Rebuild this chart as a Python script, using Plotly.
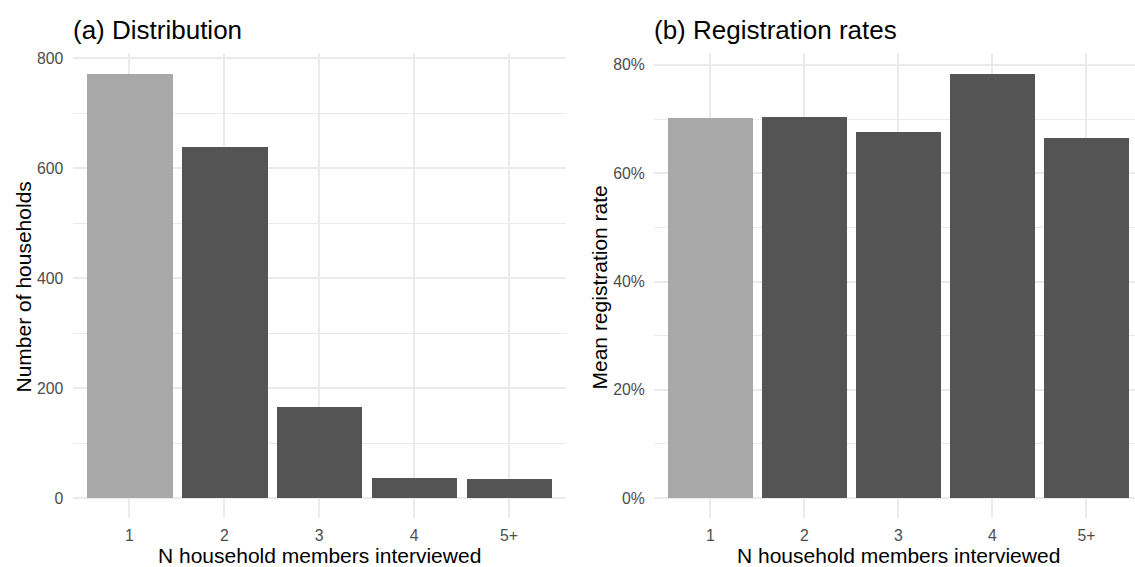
import plotly.graph_objects as go

categories = ["1", "2", "3", "4", "5+"]
households = [772, 640, 166, 37.5, 35.7]
reg_rates = [0.703, 0.705, 0.676, 0.784, 0.666]
bar_colors = ["#A8A8A8", "#545454", "#545454", "#545454", "#545454"]

W, H = 1135, 567
def px_x(v): return v / W
def px_y(v): return 1 - v / H

fig = go.Figure()
fig.add_trace(go.Bar(x=categories, y=households, marker_color=bar_colors, width=0.9,
                     marker_line_width=0, xaxis="x", yaxis="y", showlegend=False))
fig.add_trace(go.Bar(x=categories, y=reg_rates, marker_color=bar_colors, width=0.9,
                     marker_line_width=0, xaxis="x2", yaxis="y2", showlegend=False))

FONT = "Liberation Sans, Arial, sans-serif"
grid = "#EBEBEB"
tickfont = dict(family=FONT, size=15.8, color="#4D4D4D")
titlefont = dict(family=FONT, size=21, color="#000000")

ydom = [px_y(518), px_y(50)]
xcommon = dict(type="category", showgrid=True, gridcolor=grid, gridwidth=1.6,
               zeroline=False, showline=False, tickfont=tickfont, ticks="outside",
               ticklen=3, tickcolor="rgba(0,0,0,0)", fixedrange=True)
ycommon = dict(showgrid=True, gridcolor=grid, gridwidth=1.6, zeroline=False, showline=False,
               tickfont=tickfont, ticks="outside", ticklen=5, tickcolor="rgba(0,0,0,0)",
               fixedrange=True)
fig.update_layout(
    width=W, height=H,
    margin=dict(l=0, r=0, t=0, b=0),
    paper_bgcolor="white", plot_bgcolor="white",
    bargap=0,
    xaxis=dict(domain=[px_x(72.5), px_x(566)], anchor="y", range=[-0.6, 4.6], **xcommon),
    xaxis2=dict(domain=[px_x(654), 1.0], anchor="y2", range=[-0.6, 4.516], **xcommon),
    yaxis=dict(domain=ydom, anchor="x", range=[-36.7, 810.3], dtick=200, tick0=0,
               minor=dict(dtick=100, tick0=0, showgrid=True, gridcolor=grid, gridwidth=0.8),
               **ycommon),
    yaxis2=dict(domain=ydom, anchor="x2", range=[-0.0373, 0.8226], dtick=0.2, tick0=0,
                tickformat=".0%",
                minor=dict(dtick=0.1, tick0=0, showgrid=True, gridcolor=grid, gridwidth=0.8),
                **ycommon),
)

ann = []
for x0, t in [(72.5, "(a) Distribution"), (654, "(b) Registration rates")]:
    ann.append(dict(text=t, x=px_x(x0 - 2), y=px_y(27), xref="paper", yref="paper",
                    xanchor="left", yanchor="middle", showarrow=False,
                    font=dict(family=FONT, size=26, color="#000")))
for cx in [(72.5 + 566) / 2, (654 + 1143) / 2]:
    ann.append(dict(text="N household members interviewed", x=px_x(cx), y=px_y(555),
                    xref="paper", yref="paper", xanchor="center", yanchor="middle",
                    showarrow=False, font=titlefont))
for cx, t in [(23, "Number of households"), (599, "Mean registration rate")]:
    ann.append(dict(text=t, x=px_x(cx), y=px_y(286), xref="paper", yref="paper",
                    xanchor="center", yanchor="middle", showarrow=False, textangle=-90,
                    font=titlefont))
fig.update_layout(annotations=ann)

fig.write_html("out.html", config={"displayModeBar": False},
               post_script="document.body.style.margin='0px';document.documentElement.style.overflow='hidden';")
